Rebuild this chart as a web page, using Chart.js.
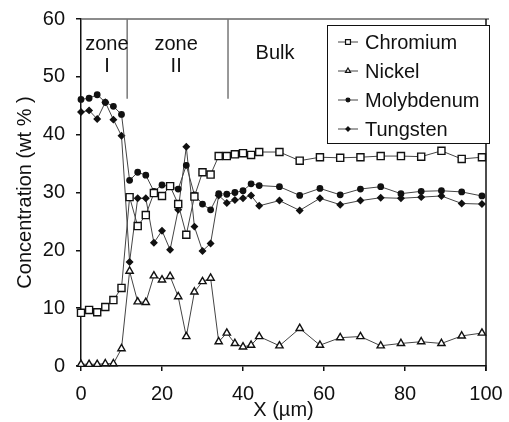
<!DOCTYPE html>
<html>
<head>
<meta charset="utf-8">
<script src="https://cdn.jsdelivr.net/npm/chart.js@4"></script>
<style>
  html, body { margin: 0; padding: 0; background: #fff; }
  #wrap { width: 509px; height: 422px; }
</style>
</head>
<body>
<div id="wrap"><canvas id="profile" width="509" height="422"></canvas></div>
<script>
// positions along the scan (µm)
var xPos = [0, 2, 4, 6, 8, 10, 12, 14, 16, 18, 20, 22, 24, 26, 28, 30, 32, 34, 36, 38, 40, 42, 44,
            49, 54, 59, 64, 69, 74, 79, 84, 89, 94, 99];

// wt %
var chromium   = [9.2, 9.7, 9.3, 10.2, 11.4, 13.5, 29.2, 24.2, 26.1, 29.9, 29.4, 31.1, 28.0, 22.7, 29.3, 33.5, 33.1, 36.3, 36.3, 36.6, 36.8, 36.5, 37.0,
                  37.0, 35.5, 36.1, 36.0, 36.1, 36.3, 36.3, 36.2, 37.2, 35.8, 36.1];
var nickel     = [0.3, 0.3, 0.3, 0.4, 0.4, 3.0, 16.4, 11.1, 11.0, 15.6, 14.9, 15.5, 12.0, 5.1, 12.8, 14.6, 15.2, 4.2, 5.7, 3.9, 3.3, 3.6, 5.1,
                  3.5, 6.5, 3.6, 4.9, 5.1, 3.5, 3.9, 4.2, 3.9, 5.2, 5.7];
var molybdenum = [46.1, 46.3, 46.9, 45.6, 44.9, 43.5, 32.1, 33.5, 33.0, 30.2, 31.3, 31.0, 30.6, 34.7, 29.6, 28.0, 27.0, 29.8, 29.7, 30.0, 30.3, 31.5, 31.2,
                  31.0, 29.5, 30.7, 29.6, 30.6, 31.0, 29.8, 30.2, 30.3, 30.1, 29.4];
var tungsten   = [43.9, 44.2, 42.7, 45.6, 42.6, 39.8, 18.0, 29.0, 29.0, 21.3, 23.4, 20.1, 27.0, 37.9, 24.1, 19.9, 21.2, 29.5, 28.2, 28.7, 29.0, 29.5, 27.7,
                  28.6, 26.9, 29.0, 27.9, 28.6, 29.1, 29.0, 29.2, 29.4, 28.1, 28.0];

var xTicks = [0, 20, 40, 60, 80, 100];
var yTicks = [0, 10, 20, 30, 40, 50, 60];

// zone boundaries and labels (data units)
var zoneBounds = [11.4, 36.3];
var zoneLineBottom = 46.2;
var zoneLabels = [
    { text: 'zone', x: 6.4,  y: 54.6 },
    { text: 'I',    x: 6.4,  y: 50.8 },
    { text: 'zone', x: 23.5, y: 54.6 },
    { text: 'II',   x: 23.5, y: 50.8 },
    { text: 'Bulk', x: 47.9, y: 53.0 }
];

var FONT = '"Liberation Sans", Arial, sans-serif';
var INK = '#111';

function pts(ys) {
    return ys.map(function (v, i) { return { x: xPos[i], y: v }; });
}

function series(label, ys, style, radius, fill) {
    return {
        label: label,
        data: pts(ys),
        showLine: true,
        borderColor: '#444',
        borderWidth: 1,
        tension: 0,
        clip: false,
        pointStyle: style,
        pointRadius: radius,
        pointHoverRadius: radius,
        pointBorderWidth: 1.4,
        pointBorderColor: INK,
        pointBackgroundColor: fill
    };
}

function marker(ctx, style, x, y, r, fill) {
    ctx.save();
    ctx.fillStyle = fill;
    ctx.strokeStyle = INK;
    ctx.lineWidth = 1.2;
    ctx.beginPath();
    if (style === 'rect') {
        var s = r * Math.SQRT1_2;
        ctx.rect(x - s, y - s, 2 * s, 2 * s);
    } else if (style === 'triangle') {
        ctx.moveTo(x, y - r);
        ctx.lineTo(x + r * 0.866, y + r * 0.5);
        ctx.lineTo(x - r * 0.866, y + r * 0.5);
        ctx.closePath();
    } else if (style === 'rectRot') {
        ctx.moveTo(x, y - r); ctx.lineTo(x + r, y); ctx.lineTo(x, y + r); ctx.lineTo(x - r, y);
        ctx.closePath();
    } else {
        ctx.arc(x, y, r, 0, Math.PI * 2);
    }
    ctx.fill();
    ctx.stroke();
    ctx.restore();
}

var extras = {
    id: 'extras',
    afterDatasetsDraw: function (chart) {
        var ctx = chart.ctx, xs = chart.scales.x, ys = chart.scales.y, a = chart.chartArea;
        ctx.save();
        // frame top and right
        ctx.strokeStyle = '#666';
        ctx.lineWidth = 1.5;
        ctx.beginPath();
        ctx.moveTo(a.left, a.top);
        ctx.lineTo(a.right + 3, a.top);
        ctx.stroke();
        ctx.strokeStyle = INK;
        ctx.beginPath();
        ctx.moveTo(a.right, a.top);
        ctx.lineTo(a.right, a.bottom + 5);
        ctx.stroke();

        // zone boundaries
        ctx.strokeStyle = '#777';
        ctx.lineWidth = 1.5;
        zoneBounds.forEach(function (b) {
            var px = xs.getPixelForValue(b);
            ctx.beginPath();
            ctx.moveTo(px, a.top);
            ctx.lineTo(px, ys.getPixelForValue(zoneLineBottom));
            ctx.stroke();
        });

        ctx.fillStyle = INK;
        ctx.font = '20px ' + FONT;
        ctx.textAlign = 'center';
        ctx.textBaseline = 'alphabetic';
        zoneLabels.forEach(function (l) {
            ctx.fillText(l.text, xs.getPixelForValue(l.x), ys.getPixelForValue(l.y));
        });

        // legend
        var lx = 327, ly = 25, lw = 162, lh = 118;
        ctx.fillStyle = '#fff';
        ctx.fillRect(lx, ly, lw, lh);
        ctx.strokeStyle = INK;
        ctx.lineWidth = 1;
        ctx.strokeRect(lx + 0.5, ly + 0.5, lw, lh);
        ctx.textAlign = 'left';
        ctx.textBaseline = 'middle';
        chart.data.datasets.forEach(function (ds, i) {
            var y = 42 + i * 29;
            ctx.strokeStyle = '#444';
            ctx.lineWidth = 1;
            ctx.beginPath();
            ctx.moveTo(338, y);
            ctx.lineTo(358, y);
            ctx.stroke();
            marker(ctx, ds.pointStyle, 348, y, ds.pointRadius * 0.7, ds.pointBackgroundColor);
            ctx.fillStyle = INK;
            ctx.fillText(ds.label, 365, y + 1);
        });
        ctx.restore();
    }
};

var ctx = document.getElementById('profile').getContext('2d');
new Chart(ctx, {
    type: 'scatter',
    data: {
        datasets: [
            series('Chromium', chromium, 'rect', 5, '#fff'),
            series('Nickel', nickel, 'triangle', 4.2, '#fff'),
            series('Molybdenum', molybdenum, 'circle', 2.7, INK),
            series('Tungsten', tungsten, 'rectRot', 3, INK)
        ]
    },
    options: {
        responsive: false,
        animation: false,
        devicePixelRatio: 1,
        layout: { padding: { top: 19, right: 23, left: 0, bottom: 0 } },
        plugins: { legend: { display: false }, tooltip: { enabled: false } },
        scales: {
            x: {
                type: 'linear',
                min: 0, max: 100,
                afterBuildTicks: function (s) { s.ticks = xTicks.map(function (v) { return { value: v }; }); },
                afterFit: function (s) { s.height = 56; s.paddingLeft = 0; s.paddingRight = 0; },
                grid: { drawOnChartArea: false, drawTicks: true, tickLength: 5, color: INK, lineWidth: 1.5 },
                border: { display: true, color: INK, width: 1.5 },
                ticks: { color: INK, padding: 11, font: { family: FONT, size: 20 } },
                title: { display: true, text: 'X (µm)', color: INK, padding: { top: 0, bottom: 0 }, font: { family: FONT, size: 20 } }
            },
            y: {
                min: 0, max: 60,
                afterBuildTicks: function (s) { s.ticks = yTicks.map(function (v) { return { value: v }; }); },
                afterFit: function (s) { s.width = 81; s.paddingTop = 0; s.paddingBottom = 0; },
                grid: { drawOnChartArea: false, drawTicks: true, tickLength: 5, color: INK, lineWidth: 1.5 },
                border: { display: true, color: INK, width: 1.5 },
                ticks: { color: INK, padding: 11, font: { family: FONT, size: 20 } },
                title: { display: true, text: 'Concentration (wt % )', color: INK, padding: { top: 13, bottom: 0 }, font: { family: FONT, size: 20 } }
            }
        }
    },
    plugins: [extras]
});
</script>
</body>
</html>
